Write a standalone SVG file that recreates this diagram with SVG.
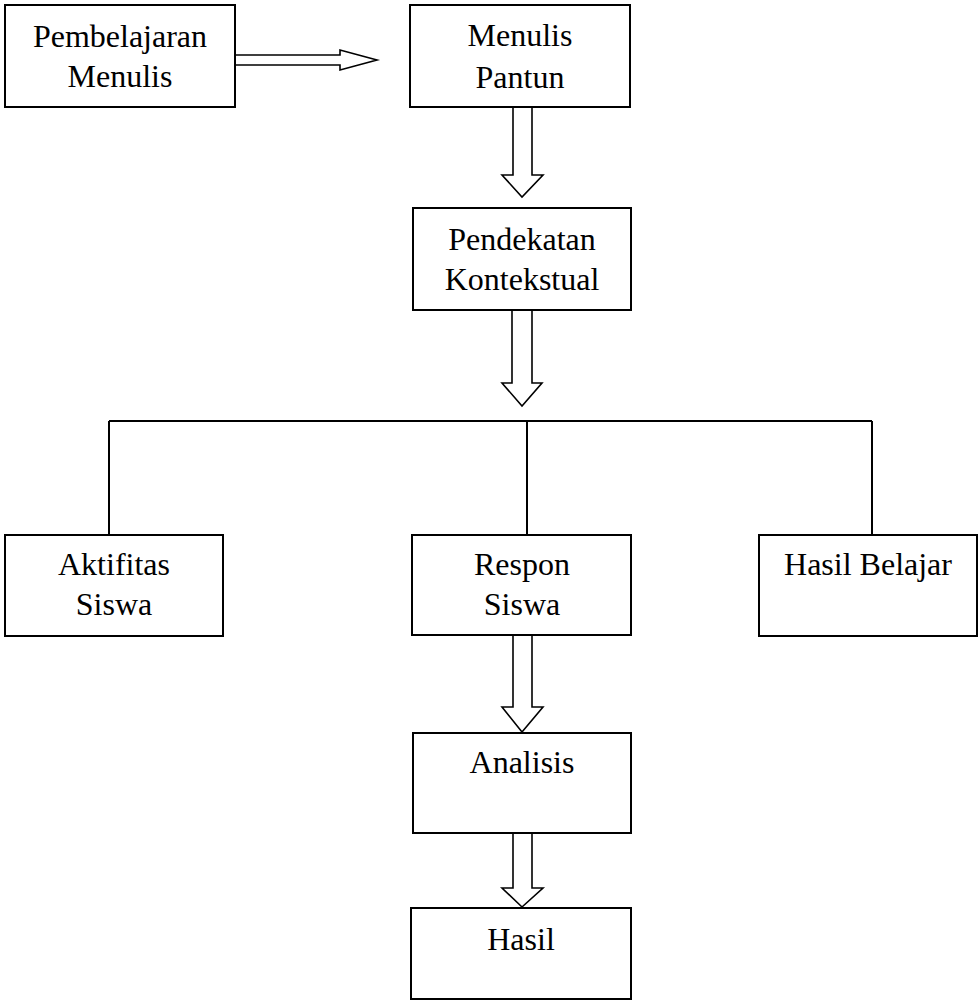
<svg xmlns="http://www.w3.org/2000/svg" width="979" height="1004" viewBox="0 0 979 1004">
<style>
.box{fill:#fff;stroke:#000;stroke-width:2}
.arr{fill:#fff;stroke:#000;stroke-width:1.6;stroke-linejoin:miter}
.ln{fill:none;stroke:#000;stroke-width:2}
text{font-family:"Liberation Serif","Times New Roman",serif;font-size:32px;fill:#000;text-anchor:middle}
</style>
<rect width="979" height="1004" fill="#fff"/>
<g id="connectors">
<polygon class="arr" points="235,55 340,55 340,50 377,60 340,70 340,65 235,65"/>
<polygon class="arr" points="513,107 532,107 532,175 543,175 522,197 502,175 513,175"/>
<polygon class="arr" points="512,310 532,310 532,383 542,383 522,406 502,383 512,383"/>
<polygon class="arr" points="513,635 532,635 532,707 543,707 522,732 502,707 513,707"/>
<polygon class="arr" points="513,833 532,833 532,888 543,888 522,907 502,888 513,888"/>
<path class="ln" d="M109,421 H872 M109,421 V535 M527,421 V535 M872,421 V535"/>
</g>
<g id="n-pembelajaran"><rect class="box" x="5" y="5" width="230" height="102"/><text x="120" y="47">Pembelajaran</text><text x="120" y="87">Menulis</text></g>
<g id="n-menulis-pantun"><rect class="box" x="410" y="5" width="220" height="102"/><text x="520" y="46">Menulis</text><text x="520" y="88">Pantun</text></g>
<g id="n-pendekatan"><rect class="box" x="413" y="208" width="218" height="102"/><text x="522" y="250">Pendekatan</text><text x="522" y="290">Kontekstual</text></g>
<g id="n-aktifitas"><rect class="box" x="5" y="535" width="218" height="101"/><text x="114" y="575">Aktifitas</text><text x="114" y="615">Siswa</text></g>
<g id="n-respon"><rect class="box" x="412" y="535" width="219" height="100"/><text x="522" y="575">Respon</text><text x="522" y="615">Siswa</text></g>
<g id="n-hasil-belajar"><rect class="box" x="759" y="535" width="218" height="101"/><text x="868" y="575">Hasil Belajar</text></g>
<g id="n-analisis"><rect class="box" x="413" y="733" width="218" height="100"/><text x="522" y="773">Analisis</text></g>
<g id="n-hasil"><rect class="box" x="411" y="908" width="220" height="91"/><text x="521" y="950">Hasil</text></g>
</svg>
